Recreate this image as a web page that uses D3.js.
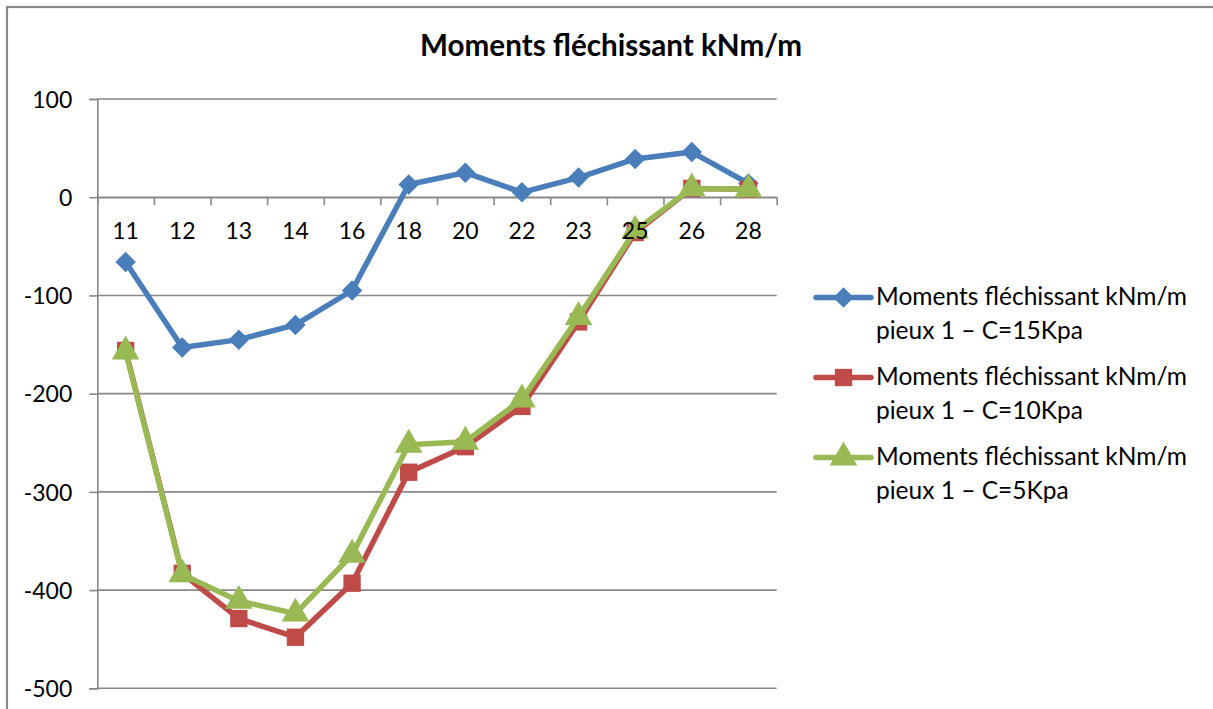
<!DOCTYPE html>
<html>
<head>
<meta charset="utf-8">
<script src="https://cdn.jsdelivr.net/npm/d3@7"></script>
<style>
  html, body { margin: 0; padding: 0; background: #fff; }
  svg { display: block; }
  text { font-family: Lato, "Open Sans", sans-serif; fill: #000; }
</style>
</head>
<body>
<svg id="chart" width="1213" height="709"></svg>
<script>
// Pile depths (x categories)
const categories = ["11", "12", "13", "14", "16", "18", "20", "22", "23", "25", "26", "28"];

// Bending moments in kNm/m for each soil cohesion case
const momentsC15 = [-66, -153, -145, -130, -95, 13, 25, 5, 20, 39, 46, 14];
const momentsC10 = [-156, -383, -429, -448, -393, -280, -254, -213, -127, -36, 9, 8];
const momentsC5  = [-157, -384, -411, -424, -364, -252, -249, -206, -122, -34, 9, 8];

const yTicks = [100, 0, -100, -200, -300, -400, -500];

const seriesNames = [
  ["Moments fléchissant kNm/m", "pieux 1 – C=15Kpa"],
  ["Moments fléchissant kNm/m", "pieux 1 – C=10Kpa"],
  ["Moments fléchissant kNm/m", "pieux 1 – C=5Kpa"]
];
const chartTitle = "Moments fléchissant kNm/m";

const colors = ["#4a7ebb", "#be4b48", "#98b954"];
const series = [momentsC15, momentsC10, momentsC5];

const svg = d3.select("#chart");
const gridColor = "#888888";

// marker shapes: square diamond, square, triangle
const markerSize = [210, 300, 330];
const markerRotate = [45, 0, 0];
const shapes = [d3.symbolSquare, d3.symbolSquare, d3.symbolTriangle];

// outer chart frame
svg.append("rect")
  .attr("x", 7).attr("y", 7).attr("width", 1240).attr("height", 740)
  .attr("fill", "none").attr("stroke", gridColor).attr("stroke-width", 2.2);

const plot = { left: 97.3, right: 776.7, top: 99, bottom: 688.3 };

const x = d3.scaleBand().domain(categories).range([plot.left, plot.right]);
const y = d3.scaleLinear().domain([-500, 100]).range([plot.bottom, plot.top]);
const cx = c => x(c) + x.bandwidth() / 2;

// horizontal gridlines
svg.append("g").selectAll("line").data(yTicks).join("line")
  .attr("x1", plot.left).attr("x2", plot.right)
  .attr("y1", d => y(d)).attr("y2", d => y(d))
  .attr("stroke", gridColor).attr("stroke-width", 1.6);

// value axis
const yAxis = svg.append("g")
  .attr("transform", `translate(${plot.left},0)`)
  .call(d3.axisLeft(y).tickValues(yTicks).tickSize(8).tickPadding(17).tickFormat(d => String(d)));
yAxis.select(".domain").attr("stroke", gridColor).attr("stroke-width", 1.6);
yAxis.selectAll(".tick line").attr("stroke", gridColor).attr("stroke-width", 1.6);
yAxis.selectAll(".tick text")
  .attr("font-family", "Lato, 'Open Sans', sans-serif")
  .attr("font-size", 23).attr("fill", "#000").attr("dy", "0.36em");

// category axis crossing at zero, tick marks on band edges
const edges = d3.scaleLinear().domain([0, categories.length]).range([plot.left, plot.right]);
const xAxis = svg.append("g")
  .attr("transform", `translate(0,${y(0)})`)
  .call(d3.axisBottom(edges).tickValues(d3.range(categories.length + 1)).tickSize(8).tickSizeOuter(0).tickFormat(""));
xAxis.select(".domain").attr("stroke", gridColor).attr("stroke-width", 1.6);
xAxis.selectAll(".tick line").attr("stroke", gridColor).attr("stroke-width", 1.6);

// series: line then markers, in order
const line = d3.line().x((d, i) => cx(categories[i])).y(d => y(d));
series.forEach((vals, s) => {
  const g = svg.append("g");
  g.append("path").datum(vals)
    .attr("d", line).attr("fill", "none")
    .attr("stroke", colors[s]).attr("stroke-width", 5.5)
    .attr("stroke-linejoin", "round").attr("stroke-linecap", "round");
  g.selectAll("path.m").data(vals).join("path").attr("class", "m")
    .attr("d", d3.symbol().type(shapes[s]).size(markerSize[s]))
    .attr("transform", (d, i) => `translate(${cx(categories[i])},${y(d)}) rotate(${markerRotate[s]})`)
    .attr("fill", colors[s]);
});

// category labels sit above the series
svg.append("g").selectAll("text").data(categories).join("text")
  .attr("x", d => cx(d)).attr("y", y(0) + 42)
  .attr("text-anchor", "middle").attr("font-size", 23)
  .text(d => d);

// fit a text element to a target width
function fitWidth(sel, target) {
  const n = sel.node();
  const fs = parseFloat(sel.attr("font-size"));
  const w = n.getComputedTextLength();
  sel.attr("font-size", (fs * target / w).toFixed(2));
}

// title
const title = svg.append("text")
  .attr("x", 611).attr("y", 56).attr("text-anchor", "middle")
  .attr("font-size", 26).attr("font-weight", "bold")
  .text(chartTitle);
fitWidth(title, 382);

// legend
const legendBase = [305, 385, 465];
seriesNames.forEach((lines, s) => {
  const g = svg.append("g");
  const yb = legendBase[s];
  g.append("line").attr("x1", 816).attr("x2", 871)
    .attr("y1", yb - 7.5).attr("y2", yb - 7.5)
    .attr("stroke", colors[s]).attr("stroke-width", 5.5).attr("stroke-linecap", "round");
  g.append("path")
    .attr("d", d3.symbol().type(shapes[s]).size(markerSize[s]))
    .attr("transform", `translate(843.5,${yb - 7.5}) rotate(${markerRotate[s]})`)
    .attr("fill", colors[s]);
  const t1 = g.append("text").attr("x", 876).attr("y", yb).attr("font-size", 20).text(lines[0]);
  fitWidth(t1, 311);
  g.append("text").attr("x", 876).attr("y", yb + 33.5).attr("font-size", t1.attr("font-size")).text(lines[1]);
});
</script>
</body>
</html>
